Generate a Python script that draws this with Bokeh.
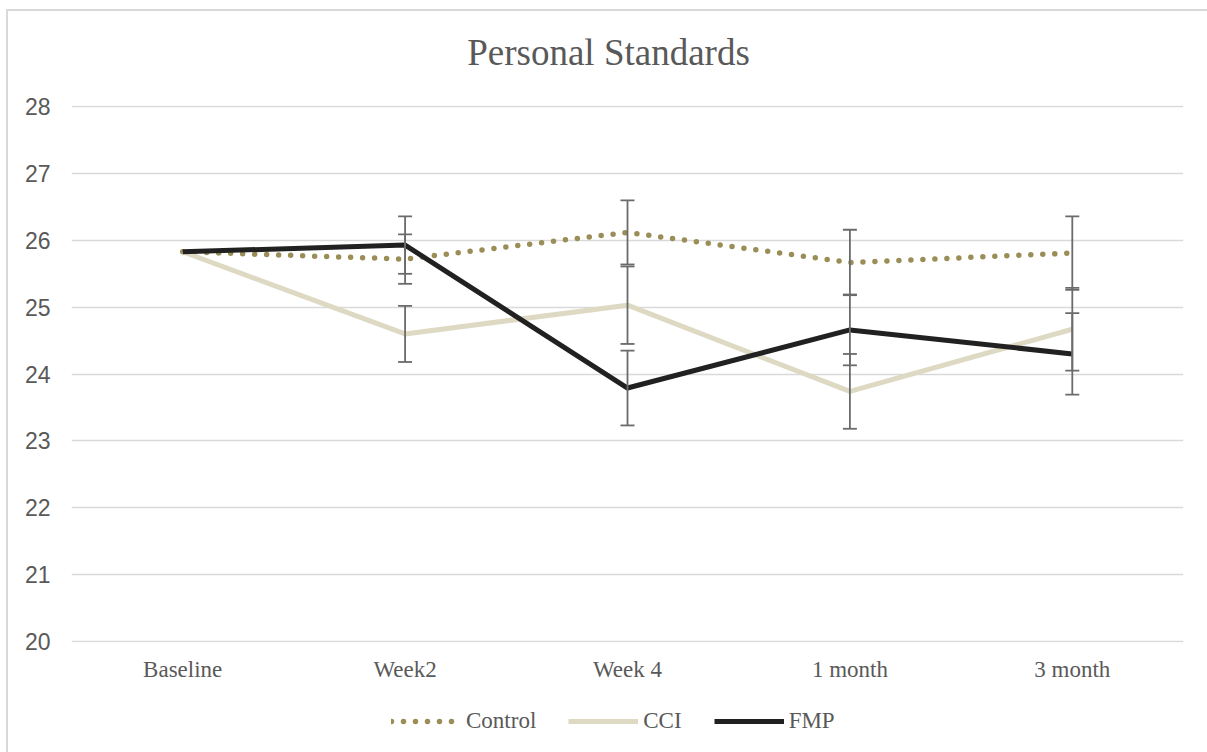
from bokeh.plotting import figure
from bokeh.layouts import column
from bokeh.models import (ColumnDataSource, FactorRange, FixedTicker, Whisker, TeeHead,
                          Legend, LegendItem, Label)
from bokeh.embed import file_html
from bokeh.resources import INLINE

# Time points and group means with error-bar half widths
timepoints = ["Baseline", "Week2", "Week 4", "1 month", "3 month"]
control = [25.83, 25.72, 26.12, 25.67, 25.81]
cci = [25.83, 24.60, 25.03, 23.74, 24.67]
fmp = [25.83, 25.93, 23.79, 24.66, 24.30]
control_err = [None, 0.37, 0.48, 0.49, 0.55]
cci_err = [None, 0.42, 0.58, 0.56, 0.62]
fmp_err = [None, 0.43, 0.56, 0.53, 0.61]
y_ticks = [20, 21, 22, 23, 24, 25, 26, 27, 28]
series_names = ["Control", "CCI", "FMP"]
chart_title = "Personal Standards"

SERIF = "Liberation Serif"
SANS = "Liberation Sans"
TEXT = "#595959"
GRID = "#d9d9d9"
ERR = "#6b6b6b"
STYLES = [
    dict(line_color="#9a8e56", line_width=5.5, line_dash="0 12", line_cap="round"),
    dict(line_color="#ddd9c3", line_width=5, line_join="round"),
    dict(line_color="#212121", line_width=5, line_join="round"),
]
series = [control, cci, fmp]
errors = [control_err, cci_err, fmp_err]
W = 1199


def strip(height, **kw):
    s = figure(width=W, height=height, output_backend="svg", toolbar_location=None,
               x_axis_type=None, y_axis_type=None, min_border=0, **kw)
    s.outline_line_color = None
    s.grid.grid_line_color = None
    return s


# Title strip (its frame is aligned with the chart frame by the column layout)
top = strip(80, x_range=(0, 1), y_range=(0, 1))
top.add_layout(Label(x=537, y=39, x_units="screen", y_units="screen", text=chart_title,
                     text_align="center", text_baseline="alphabetic", text_font=SERIF,
                     text_font_size="37px", text_color=TEXT))

# Main chart
p = figure(width=W, height=609, x_range=FactorRange(*timepoints), y_range=(19.98, 28.02),
           output_backend="svg", toolbar_location=None,
           min_border_left=63, min_border_right=24, min_border_top=14, min_border_bottom=58)
p.outline_line_color = None
p.background_fill_color = "white"
p.border_fill_color = "white"

p.xgrid.grid_line_color = None
p.ygrid.grid_line_color = GRID
p.ygrid.grid_line_width = 1.5
p.yaxis.ticker = FixedTicker(ticks=y_ticks)

p.yaxis.axis_line_color = None
p.yaxis.major_tick_line_color = None
p.yaxis.minor_tick_line_color = None
p.yaxis.major_label_standoff = 15
p.yaxis.major_label_text_font = SANS
p.yaxis.major_label_text_font_size = "23px"
p.yaxis.major_label_text_color = TEXT

p.xaxis.axis_line_color = None
p.xaxis.major_tick_line_color = None
p.xaxis.major_label_standoff = 8
p.xaxis.major_label_text_font = SERIF
p.xaxis.major_label_text_font_size = "23px"
p.xaxis.major_label_text_color = TEXT


def error_source(vals, errs):
    xs, lo, hi = [], [], []
    for t, v, e in zip(timepoints, vals, errs):
        if e is None:
            continue
        xs.append(t)
        lo.append(v - e)
        hi.append(v + e)
    return ColumnDataSource(dict(x=xs, lower=lo, upper=hi))


def add_errors(vals, errs):
    src = error_source(vals, errs)
    w = Whisker(source=src, base="x", lower="lower", upper="upper", dimension="height",
                line_color=ERR, line_width=1.8, level="glyph",
                upper_head=TeeHead(size=14, line_color=ERR, line_width=1.8),
                lower_head=TeeHead(size=14, line_color=ERR, line_width=1.8))
    p.add_layout(w)


for vals, errs, style in zip(series, errors, STYLES):
    p.line(timepoints, vals, **style)
    add_errors(vals, errs)

# Legend strip underneath the chart; its renderers carry the same series but
# sit outside this strip's visible y-range, so only the legend swatches show.
leg = strip(52, x_range=FactorRange(*timepoints), y_range=(0, 1))
items = []
for name, vals, style in zip(series_names, series, STYLES):
    r = leg.line(timepoints, vals, **style)
    items.append(LegendItem(label=name, renderers=[r]))
legend = Legend(items=items, orientation="horizontal", location=(320, 18),
                label_text_font=SERIF, label_text_font_size="23px", label_text_color=TEXT,
                glyph_width=70, label_standoff=5, spacing=32, padding=0, margin=0,
                border_line_color=None, background_fill_alpha=0)
leg.add_layout(legend)

page = column(top, p, leg, spacing=0)
page.margin = (9, 0, 0, 6)
page.styles = {"border-left": "2px solid #d9d9d9", "border-top": "2px solid #d9d9d9"}

open("out.html", "w").write(file_html(page, INLINE))
